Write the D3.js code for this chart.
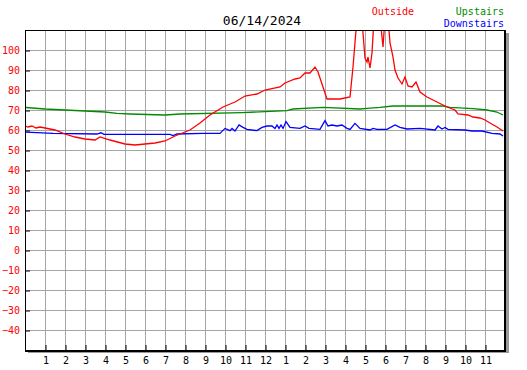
<!DOCTYPE html>
<html>
<head>
<meta charset="utf-8">
<script src="https://cdn.jsdelivr.net/npm/d3@7"></script>
<style>
	body { margin: 0; background: #fff; }
	text { font-family: "DejaVu Sans Mono", monospace; }
</style>
</head>
<body>
<div id="chart"></div>
<script>
// hour of day (0..24) and temperature in F
const outsideHours = [0, 0.15, 0.35, 0.55, 0.75, 1, 1.5, 2, 2.5, 3, 3.5, 3.75, 4.25, 5, 5.5, 6, 6.5, 7, 7.5, 7.75,
	8.25, 8.75, 9.25, 9.9, 10.5, 11, 11.6, 12, 12.75, 13, 13.5, 13.75, 14, 14.25, 14.5, 14.65, 15.1, 15.75, 16.25, 16.4,
	16.6, 16.85, 16.9, 17, 17.1, 17.15, 17.25, 17.35, 17.45, 17.75, 17.85, 17.9, 18, 18.15, 18.25, 18.4, 18.5, 18.65,
	18.85, 19, 19.15, 19.35, 19.55, 19.75, 20.1, 20.6, 21.1, 21.5, 21.65, 22.15, 22.4, 22.75, 23, 23.25, 23.6, 23.9];
const outsideTemp = [62, 61.5, 62, 61, 61.5, 61, 60, 58, 56.5, 55.5, 55, 56.5, 55, 53, 52.5, 53, 53.5, 54.5, 57, 58,
	60, 63.5, 67.5, 71.5, 74, 77, 78, 80, 81.5, 83.5, 85.5, 86, 88.5, 88.5, 91.5, 89, 75.5, 75.5, 76.5, 91.5,
	116, 116, 108.5, 96, 94, 96.5, 91, 98.5, 116, 116, 106.5, 101.5, 116, 116, 103.5, 96.5, 90, 86,
	83, 86.5, 82, 81.5, 84, 79, 76.5, 74, 71.5, 70, 68, 67.5, 66.5, 66, 65, 63.5, 61.5, 59.5];

const upstairsHours = [0, 0.35, 1, 2, 3, 4, 4.6, 5.25, 7, 7.75, 10.85, 13.1, 13.4, 14.9, 16.75, 17.1, 17.75, 18.4,
	20.9, 21.25, 22.4, 23.1, 23.6, 23.9];
const upstairsTemp = [71.3, 71, 70.5, 70, 69.5, 69, 68.3, 68, 67.5, 68, 68.7, 69.7, 70.5, 71.3, 70.5, 70.8, 71.3, 72,
	72, 71.3, 70.7, 70, 69, 67.5];

const downstairsHours = [0, 1.4, 3.6, 3.8, 3.95, 7.25, 7.4, 7.6, 8.9, 9.75, 10, 10.25, 10.35, 10.5, 10.7, 10.9, 11.1,
	11.6, 11.85, 12.1, 12.35, 12.5, 12.6, 12.7, 12.8, 12.9, 13.05, 13.25, 13.75, 14, 14.2, 14.75, 15, 15.15, 15.35,
	15.6, 15.85, 16.1, 16.25, 16.5, 16.75, 17.25, 17.4, 17.6, 18.1, 18.5, 18.75, 19.1, 19.75, 20.5, 20.65, 20.85, 21,
	21.15, 22, 22.35, 22.85, 23.35, 23.75, 23.9];
const downstairsTemp = [59, 58.3, 58, 58.6, 57.8, 57.8, 57.2, 58, 58.3, 58.3, 60.8, 59.7, 60.8, 59.5, 62.5, 61.3, 60.3,
	59.7, 61.3, 62, 62, 60.8, 62.5, 60.8, 62.5, 60.8, 64.2, 61.3, 60.8, 62, 60.8, 60.3, 64.7, 62, 62.5,
	62, 62.5, 60.8, 60.3, 63.3, 60.8, 60, 60.8, 60.3, 60.3, 62.5, 61.3, 60.5, 60.8, 60, 62, 60.5, 61.3,
	60.3, 60, 59.5, 59.5, 58.3, 58, 57];

const yTicks = d3.range(-40, 101, 10);
const hourTicks = d3.range(1, 24);
const title = "06/14/2024";

WIDTH = 527;
HEIGHT = 370;
const L = 25, R = 505, T = 30, B = 350;

const svg = d3.select("#chart")
	.append("svg")
		.attr("width", WIDTH)
		.attr("height", HEIGHT)

const x = d3.scaleLinear().domain([0, 24]).range([L, R]);
const y = d3.scaleLinear().domain([-50, 110]).range([B, T]);

// shadow + plot background
svg.append("rect")
	.attr("x", L + 3).attr("y", T + 3)
	.attr("width", R - L + 1).attr("height", B - T)
	.attr("fill", "#999")
svg.append("rect")
	.attr("x", L).attr("y", T)
	.attr("width", R - L).attr("height", B - T)
	.attr("fill", "#fff")

// grid
svg.append("g")
	.selectAll("line")
	.data(hourTicks)
	.join("line")
		.attr("x1", d => x(d) + 0.5).attr("x2", d => x(d) + 0.5)
		.attr("y1", T).attr("y2", B)
		.attr("stroke", "#a4a4a4")
		.attr("stroke-width", 1)
		.attr("shape-rendering", "crispEdges")
svg.append("g")
	.selectAll("line")
	.data(yTicks)
	.join("line")
		.attr("x1", L).attr("x2", R)
		.attr("y1", d => y(d) + 0.5).attr("y2", d => y(d) + 0.5)
		.attr("stroke", "#a4a4a4")
		.attr("stroke-width", 1)
		.attr("shape-rendering", "crispEdges")

// axes
const yAxis = svg.append("g")
	.attr("transform", `translate(${L},0.5)`)
	.call(d3.axisLeft(y).tickValues(yTicks).tickSize(-5).tickPadding(5))
yAxis.select(".domain").remove();
yAxis.selectAll("line").attr("stroke", "#000");
yAxis.selectAll("text")
	.attr("fill", "#f00")
	.style("font-family", "'DejaVu Sans Mono', monospace")
	.style("font-size", "10px");

const xAxis = svg.append("g")
	.attr("transform", `translate(0.5,${B})`)
	.call(d3.axisBottom(x).tickValues(hourTicks).tickSize(-5).tickPadding(7)
		.tickFormat(d => d % 12 === 0 ? 12 : d % 12))
xAxis.select(".domain").remove();
xAxis.selectAll("line").attr("stroke", "#000");
xAxis.selectAll("text")
	.attr("fill", "#000")
	.style("font-family", "'DejaVu Sans Mono', monospace")
	.style("font-size", "10px");

// frame
svg.append("line").attr("x1", L).attr("x2", R + 1).attr("y1", T + 0.5).attr("y2", T + 0.5)
	.attr("stroke", "#000").attr("stroke-width", 1)
svg.append("line").attr("x1", L + 0.5).attr("x2", L + 0.5).attr("y1", T).attr("y2", B + 2)
	.attr("stroke", "#000").attr("stroke-width", 1)
svg.append("line").attr("x1", R).attr("x2", R).attr("y1", T).attr("y2", B + 2)
	.attr("stroke", "#000").attr("stroke-width", 2)
svg.append("line").attr("x1", L).attr("x2", R + 1).attr("y1", B + 1).attr("y2", B + 1)
	.attr("stroke", "#000").attr("stroke-width", 2)

// data lines
svg.append("clipPath").attr("id", "plot")
	.append("rect").attr("x", L + 1).attr("y", T + 1).attr("width", R - L - 2).attr("height", B - T - 1)

const line = d3.line().x(d => x(d[0])).y(d => y(d[1]));

function draw_series(hours, temps, color){
	svg.append("path")
		.datum(hours.map((h, i) => [h, temps[i]]))
		.attr("d", line)
		.attr("fill", "none")
		.attr("stroke", color)
		.attr("stroke-width", 1.3)
		.attr("clip-path", "url(#plot)")
}
draw_series(upstairsHours, upstairsTemp, "#008c00");
draw_series(downstairsHours, downstairsTemp, "#0000ff");
draw_series(outsideHours, outsideTemp, "#ff0000");

// title and legend
svg.append("text")
	.attr("x", 262).attr("y", 25)
	.attr("text-anchor", "middle")
	.style("font-size", "13px")
	.text(title)
svg.append("text")
	.attr("x", 414).attr("y", 15)
	.attr("text-anchor", "end")
	.attr("fill", "#f00")
	.style("font-size", "10px")
	.text("Outside")
svg.append("text")
	.attr("x", 504).attr("y", 15)
	.attr("text-anchor", "end")
	.attr("fill", "#008c00")
	.style("font-size", "10px")
	.text("Upstairs")
svg.append("text")
	.attr("x", 504).attr("y", 27)
	.attr("text-anchor", "end")
	.attr("fill", "#0000ff")
	.style("font-size", "10px")
	.text("Downstairs")
</script>
</body>
</html>
